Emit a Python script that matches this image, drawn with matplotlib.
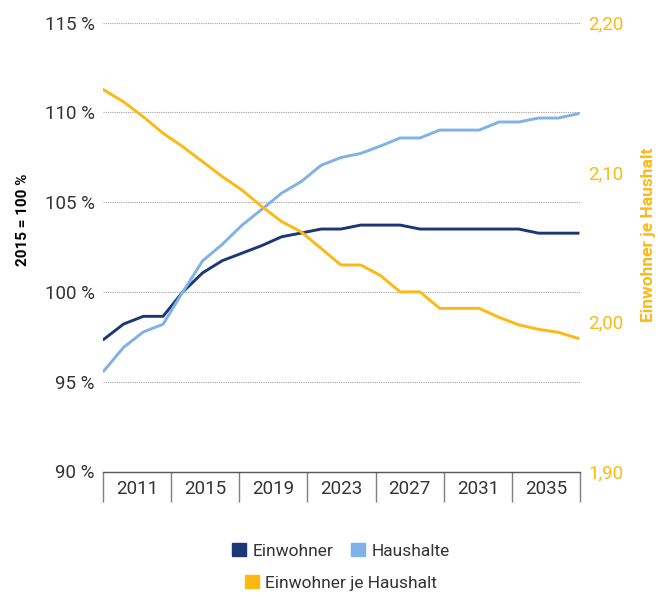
import matplotlib
matplotlib.use("Agg")
import matplotlib.pyplot as plt
from matplotlib.patches import Patch
from matplotlib.ticker import FixedLocator, NullFormatter

jahre = list(range(2011, 2036))
einwohner = [97.36, 98.21, 98.64, 98.64, 100.0, 101.06, 101.74, 102.16, 102.58, 103.07,
             103.28, 103.5, 103.5, 103.72, 103.72, 103.72, 103.5, 103.5, 103.5, 103.5,
             103.5, 103.5, 103.27, 103.27, 103.27]
haushalte = [95.6, 96.91, 97.77, 98.2, 100.0, 101.73, 102.65, 103.72, 104.6, 105.5,
             106.15, 107.05, 107.48, 107.71, 108.12, 108.57, 108.57, 109.01, 109.01, 109.01,
             109.46, 109.46, 109.68, 109.68, 109.92]
ew_je_hh = [2.155, 2.147, 2.137, 2.126, 2.117, 2.107, 2.097, 2.088, 2.077, 2.067,
            2.060, 2.049, 2.038, 2.038, 2.031, 2.020, 2.020, 2.009, 2.009, 2.009,
            2.003, 1.998, 1.995, 1.993, 1.989]
achsen_labels = ["2011", "2015", "2019", "2023", "2027", "2031", "2035"]

dunkelblau = "#1c3775"
hellblau = "#7fb2e5"
orange = "#fdb913"
textfarbe = "#333333"

plt.rcParams["font.family"] = ["Roboto", "DejaVu Sans"]

W, H = 658, 599
fig = plt.figure(figsize=(W / 100, H / 100), dpi=100)
ax = fig.add_axes([103 / W, 1 - 471.5 / H, 477 / W, 449 / H])
ax2 = ax.twinx()

ax.plot(jahre, einwohner, color=dunkelblau, lw=2.1, solid_joinstyle="round", zorder=3)
ax.plot(jahre, haushalte, color=hellblau, lw=2.1, solid_joinstyle="round", zorder=3)
ax2.plot(jahre, ew_je_hh, color=orange, lw=2.1, solid_joinstyle="round", zorder=3)

x0, x1 = 2010.96, 2035.1
ax.set_xlim(x0, x1)
ax.set_ylim(90, 115)
ax2.set_ylim(1.90, 2.20)

# linke Achse
ax.set_yticks([90, 95, 100, 105, 110, 115])
ax.set_yticklabels([f"{v} %" for v in [90, 95, 100, 105, 110, 115]])
ax.tick_params(axis="y", length=0, pad=6, labelsize=13.5, labelcolor=textfarbe)
ax.yaxis.grid(True, linestyle=(0, (1, 1)), color="#a0a0a0", linewidth=0.8)
ax.set_axisbelow(True)

# rechte Achse
ax2.set_yticks([1.90, 2.00, 2.10, 2.20])
ax2.set_yticklabels(["1,90", "2,00", "2,10", "2,20"])
ax2.tick_params(axis="y", length=0, pad=6, labelsize=13.5, labelcolor=orange)

# Kategorienachse als Kasten
grenzen = [x0 + k * (x1 - x0) / 7 for k in range(8)]
mitten = [(grenzen[k] + grenzen[k + 1]) / 2 for k in range(7)]
ax.xaxis.set_major_locator(FixedLocator(grenzen))
ax.xaxis.set_major_formatter(NullFormatter())
ax.xaxis.set_minor_locator(FixedLocator(mitten))
ax.set_xticklabels(achsen_labels, minor=True)
ax.tick_params(axis="x", which="major", length=21.5, width=1, color="#7f7f7f")
ax.tick_params(axis="x", which="minor", length=0, pad=6, labelsize=13.5, labelcolor=textfarbe)

for a in (ax, ax2):
    for s in ("top", "left", "right", "bottom"):
        a.spines[s].set_visible(False)
ax.spines["bottom"].set_visible(True)
ax.spines["bottom"].set_color("#595959")
ax.spines["bottom"].set_linewidth(1)

fig.text(23 / W, 1 - 220 / H, "2015 = 100 %", rotation=90, ha="center", va="center",
         fontsize=11, fontweight="bold", color="black")
fig.text(648 / W, 1 - 235 / H, "Einwohner je Haushalt", rotation=90, ha="center", va="center",
         fontsize=12.5, fontweight="bold", color=orange)

# Legende
h1 = [Patch(color=dunkelblau, label="Einwohner"), Patch(color=hellblau, label="Haushalte")]
h2 = [Patch(color=orange, label="Einwohner je Haushalt")]
fig.legend(handles=h1, ncol=2, loc="center", bbox_to_anchor=(341 / W, 1 - 551 / H),
           frameon=False, fontsize=12.5, handlelength=0.8, handleheight=0.8,
           handletextpad=0.4, columnspacing=1.0, labelcolor=textfarbe)
fig.legend(handles=h2, loc="center", bbox_to_anchor=(341 / W, 1 - 583 / H),
           frameon=False, fontsize=12.5, handlelength=0.8, handleheight=0.8,
           handletextpad=0.4, labelcolor=textfarbe)

fig.savefig("out.png", dpi=100)
